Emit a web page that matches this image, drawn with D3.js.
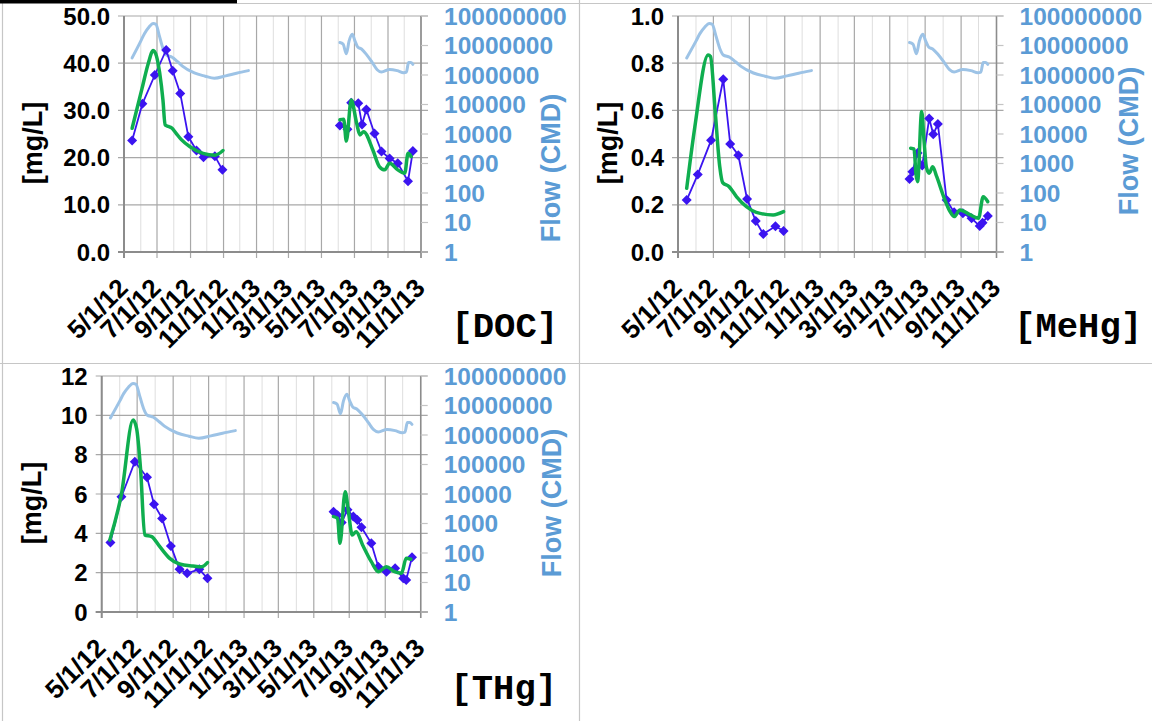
<!DOCTYPE html>
<html>
<head>
<meta charset="utf-8">
<script src="https://cdn.jsdelivr.net/npm/d3@7"></script>
<style>
  body { margin: 0; background: #fff; }
  svg { display: block; }
</style>
</head>
<body>
<svg id="chart" width="1152" height="721"></svg>
<script>
// ---- shared axis data ----
const xDomain = ["2012-05-01", "2013-11-01"];
const xTickLabels = ["5/1/12", "7/1/12", "9/1/12", "11/1/12", "1/1/13", "3/1/13", "5/1/13", "7/1/13", "9/1/13", "11/1/13"];
const flowTicks = [1, 10, 100, 1000, 10000, 100000, 1000000, 10000000, 100000000];

// ---- grab-sample dates ----
const sampleDates2012 = ["2012-05-16", "2012-06-04", "2012-06-27", "2012-07-18", "2012-07-30", "2012-08-13", "2012-08-28", "2012-09-12", "2012-09-25", "2012-10-16", "2012-10-30"];
const docDates2013 = ["2013-06-04", "2013-06-18", "2013-06-25", "2013-07-08", "2013-07-15", "2013-07-23", "2013-08-07", "2013-08-20", "2013-09-04", "2013-09-19", "2013-10-08", "2013-10-17"];
const mehgDates2013 = ["2013-06-04", "2013-06-09", "2013-06-18", "2013-06-26", "2013-07-08", "2013-07-15", "2013-07-23", "2013-08-07", "2013-08-20", "2013-09-04", "2013-09-19", "2013-10-03", "2013-10-08", "2013-10-17"];
const thgDates2013 = ["2013-06-04", "2013-06-11", "2013-06-18", "2013-06-28", "2013-07-08", "2013-07-15", "2013-07-22", "2013-08-08", "2013-08-20", "2013-09-03", "2013-09-18", "2013-10-02", "2013-10-07", "2013-10-17"];

// ---- measured concentrations ----
const docMeasured2012 = [23.6, 31.4, 37.5, 42.8, 38.4, 33.6, 24.4, 21.5, 20.1, 20.3, 17.4];
const docMeasured2013 = [26.8, 26.0, 31.6, 31.5, 27.0, 30.2, 25.1, 21.3, 19.8, 18.8, 15.0, 21.4];
const mehgMeasured2012 = [0.22, 0.328, 0.473, 0.732, 0.458, 0.41, 0.225, 0.131, 0.076, 0.109, 0.089];
const mehgMeasured2013 = [0.309, 0.34, 0.42, 0.366, 0.566, 0.499, 0.542, 0.22, 0.168, 0.164, 0.143, 0.110, 0.124, 0.153];
const thgMeasured2012 = [3.54, 5.86, 7.64, 6.85, 5.48, 4.76, 3.36, 2.17, 1.97, 2.17, 1.71];
const thgMeasured2013 = [5.10, 4.92, 4.55, 5.20, 4.85, 4.68, 4.31, 3.49, 2.30, 2.05, 2.22, 1.71, 1.63, 2.78];

// ---- simulated concentrations ----
const docModelDates2012 = ["2012-05-16", "2012-06-03", "2012-06-15", "2012-06-24", "2012-06-30", "2012-07-06", "2012-07-12", "2012-07-16", "2012-07-22", "2012-07-28", "2012-08-05", "2012-08-15", "2012-08-31", "2012-09-24", "2012-10-16", "2012-10-31"];
const docModel2012 = [26.2, 34.5, 40.0, 42.7, 41.5, 37.9, 32.2, 26.9, 26.6, 26.3, 25.2, 23.8, 22.3, 20.9, 20.5, 21.5];
const docModelDates2013 = ["2013-06-04", "2013-06-11", "2013-06-16", "2013-06-25", "2013-07-05", "2013-07-11", "2013-07-18", "2013-08-04", "2013-08-16", "2013-08-26", "2013-09-04", "2013-09-19", "2013-10-02", "2013-10-08", "2013-10-14"];
const docModel2013 = [28.0, 28.1, 23.5, 32.2, 27.3, 24.8, 25.5, 21.6, 18.1, 17.4, 18.8, 17.4, 16.7, 20.9, 20.2];

const mehgModelDates2012 = ["2012-05-16", "2012-05-30", "2012-06-22", "2012-06-26", "2012-07-04", "2012-07-12", "2012-07-17", "2012-07-28", "2012-08-10", "2012-08-27", "2012-09-13", "2012-10-12", "2012-10-30"];
const mehgModel2012 = [0.27, 0.53, 0.835, 0.828, 0.60, 0.361, 0.294, 0.277, 0.234, 0.192, 0.168, 0.157, 0.171];
const mehgModelDates2013 = ["2013-06-06", "2013-06-12", "2013-06-15", "2013-06-18", "2013-06-25", "2013-06-29", "2013-07-03", "2013-07-08", "2013-07-14", "2013-07-21", "2013-08-02", "2013-08-13", "2013-08-20", "2013-08-30", "2013-09-17", "2013-10-01", "2013-10-09", "2013-10-17"];
const mehgModel2013 = [0.44, 0.436, 0.334, 0.298, 0.595, 0.475, 0.361, 0.334, 0.361, 0.319, 0.234, 0.171, 0.15, 0.178, 0.157, 0.143, 0.234, 0.213];

const thgModelDates2012 = ["2012-05-15", "2012-06-04", "2012-06-24", "2012-06-30", "2012-07-07", "2012-07-14", "2012-07-26", "2012-08-09", "2012-08-26", "2012-09-12", "2012-10-05", "2012-10-20", "2012-10-30"];
const thgModel2012 = [3.66, 6.0, 9.76, 9.34, 7.22, 3.92, 3.83, 3.32, 2.73, 2.44, 2.34, 2.30, 2.51];
const thgModelDates2013 = ["2013-06-04", "2013-06-11", "2013-06-15", "2013-06-24", "2013-06-30", "2013-07-06", "2013-07-13", "2013-07-24", "2013-08-08", "2013-08-20", "2013-09-03", "2013-09-17", "2013-09-29", "2013-10-07", "2013-10-15"];
const thgModel2013 = [4.85, 4.76, 3.49, 6.12, 5.02, 3.92, 4.08, 3.41, 2.56, 2.05, 2.30, 2.05, 1.97, 2.73, 2.68];

// ---- flow (CMD) ----
const flowDates2012 = ["2012-05-16", "2012-06-01", "2012-06-08", "2012-06-16", "2012-06-24", "2012-06-29", "2012-07-05", "2012-07-12", "2012-07-18", "2012-07-29", "2012-08-08", "2012-08-17", "2012-09-08", "2012-09-28", "2012-10-15", "2012-11-05", "2012-11-25", "2012-12-17"];
const flow2012 = [3800000, 14100000, 25700000, 41700000, 56200000, 52500000, 22400000, 7940000, 4790000, 3980000, 2820000, 2000000, 1170000, 912000, 776000, 933000, 1150000, 1410000];
const flowDates2013 = ["2013-06-04", "2013-06-10", "2013-06-16", "2013-06-21", "2013-06-27", "2013-07-02", "2013-07-07", "2013-07-14", "2013-07-23", "2013-08-03", "2013-08-12", "2013-08-20", "2013-09-04", "2013-09-18", "2013-09-30", "2013-10-05", "2013-10-09", "2013-10-13", "2013-10-17"];
const flow2013 = [12600000, 11200000, 5250000, 14100000, 24000000, 14100000, 8910000, 7590000, 5010000, 2630000, 1510000, 1260000, 1550000, 1410000, 1200000, 1260000, 2630000, 2630000, 2290000];

// ---- styles ----
const FONT = "'Liberation Sans', Arial, sans-serif";
const MONO = "'Liberation Mono', 'Courier New', monospace";
const C_MEAS = "#3b14f0";
const C_MODEL = "#0fae4f";
const C_FLOW = "#9dc3e6";
const C_FLOW_TEXT = "#5b9bd5";
const C_GRID = "#a8a8a8";
const C_MINOR = "#dedede";
const C_AXIS = "#8c8c8c";

const parse = d3.timeParse("%Y-%m-%d");
const parseTick = d3.timeParse("%m/%d/%y");
const svg = d3.select("#chart");

// cell borders
const frame = svg.append("g").attr("stroke", "#c6c6c6").attr("stroke-width", 1.2);
frame.append("line").attr("x1", 237).attr("x2", 1152).attr("y1", 3.5).attr("y2", 3.5);
frame.append("line").attr("x1", 579.5).attr("x2", 579.5).attr("y1", 0).attr("y2", 721);
frame.append("line").attr("x1", 0).attr("x2", 1152).attr("y1", 363.5).attr("y2", 363.5);
frame.append("line").attr("x1", 2.5).attr("x2", 2.5).attr("y1", 3).attr("y2", 721);
svg.append("rect").attr("x", 0).attr("y", 0).attr("width", 237).attr("height", 3.5).attr("fill", "#000");

const panels = [
  {
    title: "[DOC]", x0: 124, x1: 421, y0: 16, y1: 252,
    yTicks: [0, 10, 20, 30, 40, 50], yFmt: d3.format(".1f"),
    yTitleX: 32.5, flowTitleX: 551, flowTitleY: 168, titleX: 558, titleY: 337,
    measured: [[sampleDates2012, docMeasured2012], [docDates2013, docMeasured2013]],
    model: [[docModelDates2012, docModel2012], [docModelDates2013, docModel2013]]
  },
  {
    title: "[MeHg]", x0: 678, x1: 996.5, y0: 16, y1: 252,
    yTicks: [0, 0.2, 0.4, 0.6, 0.8, 1.0], yFmt: d3.format(".1f"),
    yTitleX: 608, flowTitleX: 1129, flowTitleY: 141, titleX: 1142, titleY: 337,
    measured: [[sampleDates2012, mehgMeasured2012], [mehgDates2013, mehgMeasured2013]],
    model: [[mehgModelDates2012, mehgModel2012], [mehgModelDates2013, mehgModel2013]]
  },
  {
    title: "[THg]", x0: 101.7, x1: 420.7, y0: 376, y1: 612,
    yTicks: [0, 2, 4, 6, 8, 10, 12], yFmt: d3.format("d"),
    yTitleX: 32, flowTitleX: 552, flowTitleY: 503, titleX: 557, titleY: 699,
    measured: [[sampleDates2012, thgMeasured2012], [thgDates2013, thgMeasured2013]],
    model: [[thgModelDates2012, thgModel2012], [thgModelDates2013, thgModel2013]]
  }
];

const flowSegments = [[flowDates2012, flow2012], [flowDates2013, flow2013]];
const zip = (dates, vals) => dates.map((d, i) => ({ date: parse(d), value: vals[i] }));

function drawPanel(p) {
  const g = svg.append("g");
  const x = d3.scaleTime().domain(xDomain.map(parse)).range([p.x0, p.x1]);
  const y = d3.scaleLinear().domain([0, d3.max(p.yTicks)]).range([p.y1, p.y0]);
  const yFlow = d3.scaleLog().domain([1, 1e8]).range([p.y1, p.y0]);

  const majors = xTickLabels.map(parseTick);
  const majorSet = new Set(majors.map(d => +d));
  const minors = d3.timeMonth.range(parse(xDomain[0]), d3.timeDay.offset(parse(xDomain[1]), 1))
    .filter(d => !majorSet.has(+d));

  // gridlines
  g.append("g").selectAll("line").data(minors).join("line")
    .attr("x1", d => x(d)).attr("x2", d => x(d)).attr("y1", p.y0).attr("y2", p.y1)
    .attr("stroke", C_MINOR).attr("stroke-width", 1);
  g.append("g").selectAll("line").data(majors).join("line")
    .attr("x1", d => x(d)).attr("x2", d => x(d)).attr("y1", p.y0).attr("y2", p.y1 + 6)
    .attr("stroke", C_GRID).attr("stroke-width", 1.2);
  g.append("g").selectAll("line").data(p.yTicks).join("line")
    .attr("x1", p.x0 - 6).attr("x2", p.x1 + 7).attr("y1", d => y(d)).attr("y2", d => y(d))
    .attr("stroke", C_GRID).attr("stroke-width", 1.2);

  // axis lines
  g.append("line").attr("x1", p.x0).attr("x2", p.x0).attr("y1", p.y0).attr("y2", p.y1 + 6)
    .attr("stroke", C_AXIS).attr("stroke-width", 2);
  g.append("line").attr("x1", p.x0 - 6).attr("x2", p.x1 + 7).attr("y1", p.y1).attr("y2", p.y1)
    .attr("stroke", C_AXIS).attr("stroke-width", 2);
  g.append("line").attr("x1", p.x1).attr("x2", p.x1).attr("y1", p.y0).attr("y2", p.y1 + 6)
    .attr("stroke", C_AXIS).attr("stroke-width", 1.5);
  g.append("g").selectAll("line").data(flowTicks).join("line")
    .attr("x1", p.x1).attr("x2", p.x1 + 7).attr("y1", d => yFlow(d)).attr("y2", d => yFlow(d))
    .attr("stroke", "#c4c4c4").attr("stroke-width", 1.2);

  // left tick labels
  g.append("g").selectAll("text").data(p.yTicks).join("text")
    .attr("x", p.x0 - 14).attr("y", d => y(d)).attr("dy", "0.36em")
    .attr("text-anchor", "end").attr("font-family", FONT).attr("font-weight", "bold")
    .attr("font-size", 24).attr("fill", "#000").text(d => p.yFmt(d));

  // right tick labels
  g.append("g").selectAll("text").data(flowTicks).join("text")
    .attr("x", p.x1 + 23).attr("y", d => yFlow(d)).attr("dy", "0.36em")
    .attr("font-family", FONT).attr("font-weight", "bold")
    .attr("font-size", 24.5).attr("fill", C_FLOW_TEXT).text(d => d3.format("d")(d));

  // date labels
  g.append("g").selectAll("text").data(majors).join("text")
    .attr("transform", d => `translate(${x(d) - 1},${p.y1 + 31}) rotate(-45)`)
    .attr("dy", "0.35em").attr("text-anchor", "end")
    .attr("font-family", FONT).attr("font-weight", "bold").attr("font-size", 26)
    .attr("fill", "#000").text((d, i) => xTickLabels[i]);

  // axis titles
  g.append("text").attr("transform", `translate(${p.yTitleX},${(p.y0 + p.y1) / 2 + 9}) rotate(-90)`)
    .attr("dy", "0.35em").attr("text-anchor", "middle")
    .attr("font-family", FONT).attr("font-weight", "bold").attr("font-size", 27)
    .attr("fill", "#000").text("[mg/L]");
  g.append("text").attr("transform", `translate(${p.flowTitleX},${p.flowTitleY}) rotate(-90)`)
    .attr("dy", "0.35em").attr("text-anchor", "middle")
    .attr("font-family", FONT).attr("font-weight", "bold").attr("font-size", 27)
    .attr("fill", C_FLOW_TEXT).text("Flow (CMD)");
  g.append("text").attr("x", p.titleX).attr("y", p.titleY).attr("text-anchor", "end")
    .attr("font-family", MONO).attr("font-weight", "bold").attr("font-size", 35.5)
    .attr("fill", "#000").text(p.title);

  // flow line (secondary log axis)
  const flowLine = d3.line().x(d => x(d.date)).y(d => yFlow(d.value)).curve(d3.curveMonotoneX);
  flowSegments.forEach(([dates, vals]) => {
    g.append("path").attr("d", flowLine(zip(dates, vals)))
      .attr("fill", "none").attr("stroke", C_FLOW).attr("stroke-width", 3)
      .attr("stroke-linejoin", "round").attr("stroke-linecap", "round");
  });

  // measured: line + diamonds
  const measLine = d3.line().x(d => x(d.date)).y(d => y(d.value));
  p.measured.forEach(([dates, vals]) => {
    const pts = zip(dates, vals);
    g.append("path").attr("d", measLine(pts))
      .attr("fill", "none").attr("stroke", C_MEAS).attr("stroke-width", 1.8);
    g.append("g").selectAll("path").data(pts).join("path")
      .attr("transform", d => `translate(${x(d.date)},${y(d.value)})`)
      .attr("d", "M0,-5L5,0L0,5L-5,0Z").attr("fill", C_MEAS);
  });

  // simulated line
  const modelLine = d3.line().x(d => x(d.date)).y(d => y(d.value)).curve(d3.curveMonotoneX);
  p.model.forEach(([dates, vals]) => {
    g.append("path").attr("d", modelLine(zip(dates, vals)))
      .attr("fill", "none").attr("stroke", C_MODEL).attr("stroke-width", 3.5)
      .attr("stroke-linejoin", "round").attr("stroke-linecap", "round");
  });
}

panels.forEach(drawPanel);
</script>
</body>
</html>
